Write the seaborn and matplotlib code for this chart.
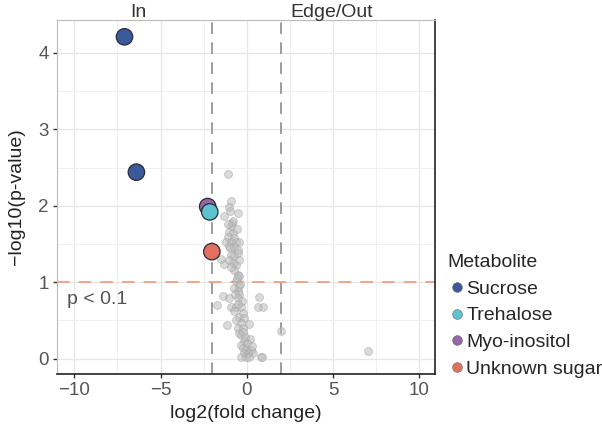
import matplotlib
matplotlib.use("Agg")
import matplotlib.pyplot as plt
import seaborn as sns
import pandas as pd
from matplotlib.ticker import MultipleLocator

# background metabolites
bg_fc = [-1.10, -0.93, -1.06, -0.97, -1.32, -0.87, -0.93, -1.03, -0.83, -1.12,
         -0.74, -1.22, -0.93, -0.64, -0.45, -1.03, -0.74, -0.54, -0.93, -0.74,
         -1.51, -1.32, -1.03, -0.45, -0.83, -0.64, -0.74, -0.54, -0.45, -0.64,
         -0.74, -0.45, -0.54, -1.41, -1.06, -0.45, -0.54, 0.68, -1.74, -0.93,
         0.62, 0.95, -0.64, -0.35, -0.74, -0.25, -0.45, -0.16, -0.64, -0.35,
         0.14, -1.18, -0.54, -0.25, -0.45, -0.35, 1.98, 0.19, -0.16, -0.35,
         -0.25, -0.06, 0.23, -0.16, 0.04, 0.33, -0.35, -0.06, 0.14, 0.81,
         7.03, 0.87, -0.80, -0.60, -1.00, -0.50, -0.90, -0.60, -0.40, -0.70,
         -0.30, -0.50, -0.20, -0.10, 0.00, 0.30, -0.50, -1.10]
bg_p = [2.41, 2.06, 1.99, 1.93, 1.87, 1.77, 1.73, 1.66, 1.64, 1.59,
        1.58, 1.53, 1.53, 1.53, 1.52, 1.47, 1.46, 1.42, 1.36, 1.34,
        1.31, 1.24, 1.29, 1.29, 1.25, 1.22, 1.16, 1.10, 1.08, 1.01,
        0.92, 0.95, 0.88, 0.82, 0.80, 0.84, 0.79, 0.81, 0.70, 0.67,
        0.68, 0.68, 0.68, 0.68, 0.62, 0.60, 0.55, 0.53, 0.51, 0.47,
        0.45, 0.44, 0.40, 0.40, 0.34, 0.31, 0.36, 0.26, 0.23, 0.18,
        0.14, 0.13, 0.12, 0.07, 0.07, 0.07, 0.02, 0.02, 0.02, 0.02,
        0.10, 0.02, 1.80, 1.70, 1.45, 1.38, 1.20, 1.05, 0.98, 0.85,
        0.75, 0.72, 0.35, 0.28, 0.20, 0.17, 1.90, 1.76]

# highlighted metabolites
hi_name = ["Sucrose", "Sucrose", "Myo-inositol", "Trehalose", "Unknown sugar"]
hi_fc = [-7.09, -6.40, -2.27, -2.15, -2.03]
hi_p = [4.21, 2.44, 1.99, 1.92, 1.40]

legend_order = ["Sucrose", "Trehalose", "Myo-inositol", "Unknown sugar"]
palette = {"Sucrose": "#3A5A9A", "Trehalose": "#5CC3CF",
           "Myo-inositol": "#9467A6", "Unknown sugar": "#E2705F"}

sns.set_theme(style="white")
plt.rcParams["font.family"] = ["Liberation Sans", "DejaVu Sans"]

fig = plt.figure(figsize=(6.02, 4.33), dpi=100)
ax = fig.add_axes([0.0947, 0.1363, 0.6279, 0.8175])

# grid
ax.xaxis.set_major_locator(MultipleLocator(5))
ax.xaxis.set_minor_locator(MultipleLocator(2.5))
ax.yaxis.set_major_locator(MultipleLocator(1))
ax.yaxis.set_minor_locator(MultipleLocator(0.5))
ax.grid(which="major", color="#e6e6e6", linewidth=0.9)
ax.grid(which="minor", color="#f0f0f0", linewidth=0.7)
ax.set_axisbelow(True)

bg = pd.DataFrame({"fc": bg_fc, "p": bg_p})
sns.scatterplot(data=bg, x="fc", y="p", ax=ax, color="#bdbdbd", alpha=0.55,
                s=32, edgecolor="#a0a0a0", linewidth=0.6, legend=False, zorder=2)

ax.axvline(-2, color="#8c8c8c", linestyle=(0, (7, 5)), linewidth=1.2, zorder=1.5)
ax.axvline(2, color="#8c8c8c", linestyle=(0, (7, 5)), linewidth=1.2, zorder=1.5)
ax.axhline(1, color="#F0A080", linestyle=(0, (7, 5)), linewidth=1.3, zorder=1.5)

hi = pd.DataFrame({"fc": hi_fc, "p": hi_p, "Metabolite": hi_name})
sns.scatterplot(data=hi, x="fc", y="p", hue="Metabolite", hue_order=legend_order,
                palette=palette, s=140, edgecolor="#2b2b3b", linewidth=0.9,
                ax=ax, zorder=3)

ax.set_xlim(-11, 10.9)
ax.set_ylim(-0.2, 4.43)

ax.text(-10.4, 0.77, "p < 0.1", fontsize=14, color="#555555", va="center", ha="left")
ax.text(-6.3, 1.009, "In", fontsize=14, color="#333333", ha="center", va="baseline",
        transform=ax.get_xaxis_transform(), clip_on=False)
ax.text(4.9, 1.009, "Edge/Out", fontsize=14, color="#333333", ha="center", va="baseline",
        transform=ax.get_xaxis_transform(), clip_on=False)

ax.set_xlabel("log2(fold change)", fontsize=14, color="#222222", labelpad=4)
ax.set_ylabel("\u2212log10(p-value)", fontsize=14, color="#222222", labelpad=9.5)
ax.set_xticks([-10, -5, 0, 5, 10])
ax.set_xticklabels(["\u221210", "\u22125", "0", "5", "10"])
ax.tick_params(axis="both", which="major", labelsize=13.5, labelcolor="#555555",
               length=3, width=1.0, color="#333333", bottom=True, left=True, pad=3)
ax.tick_params(which="minor", length=0)

for side in ["top", "left"]:
    ax.spines[side].set_color("#bbbbbb")
    ax.spines[side].set_linewidth(0.8)
for side in ["right", "bottom"]:
    ax.spines[side].set_color("#222222")
    ax.spines[side].set_linewidth(1.2)

leg = ax.legend(title="Metabolite", loc="upper left",
                bbox_to_anchor=(447 / 602, 1 - 254 / 433), bbox_transform=fig.transFigure,
                frameon=False, fontsize=14, title_fontsize=14,
                handlelength=1.0, handletextpad=0.0, labelspacing=0.47,
                borderpad=0, borderaxespad=0, alignment="left")
for h in leg.legend_handles:
    h.set_markersize(7)
    h.set_markeredgecolor("#666666")
    h.set_markeredgewidth(0.4)

fig.savefig("out.png", dpi=100)
